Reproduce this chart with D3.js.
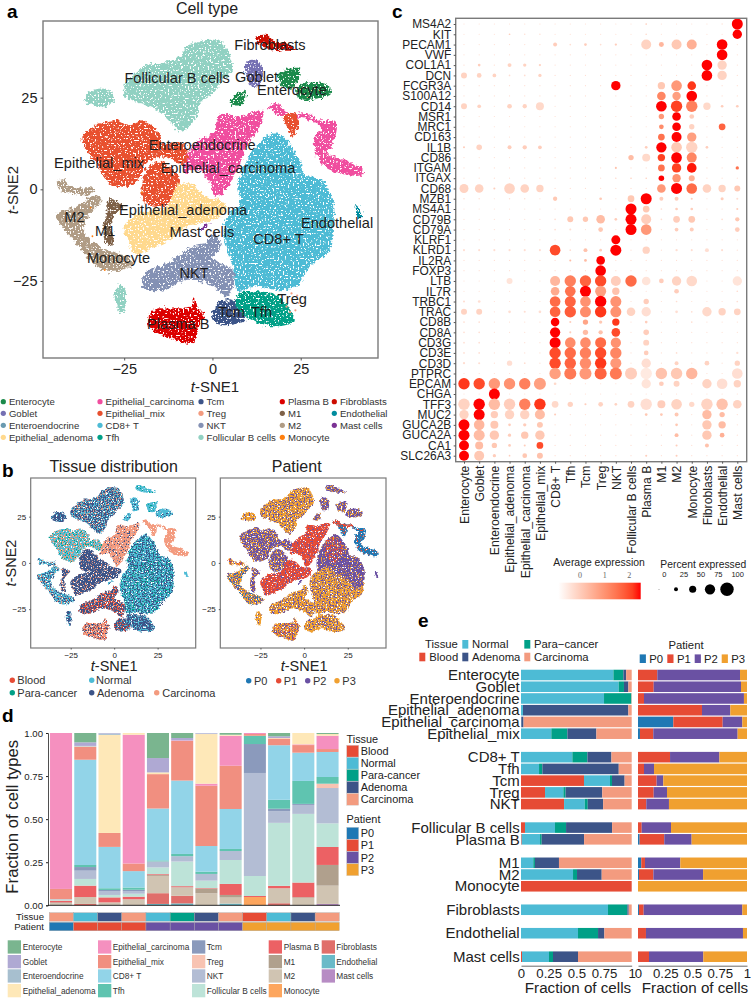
<!DOCTYPE html>
<html><head><meta charset="utf-8">
<script src="https://cdnjs.cloudflare.com/ajax/libs/d3/7.8.5/d3.min.js"></script>
<style>
html,body{margin:0;padding:0;background:#fff}
svg{display:block}
text{font-family:"Liberation Sans",Arial,sans-serif;fill:#222}
</style></head><body>
<svg id="chart" width="751" height="998" viewBox="0 0 751 998"></svg>
<script>
// ---------- shared categories ----------
const cellTypes = ["Enterocyte","Goblet","Enteroendocrine","Epithelial_adenoma","Epithelial_carcinoma","Epithelial_mix","CD8+ T","Tfh","Tcm","Treg","NKT","Follicular B cells","Plasma B","M1","M2","Monocyte","Fibroblasts","Endothelial","Mast cells"];
const cellColors = ["#1B8A4B","#7570B3","#6A9AB0","#FFD98E","#F04E9F","#E8502F","#4DBBD5","#00A087","#3C5488","#F39B7F","#8491B4","#91D1C2","#DC0000","#7E6148","#B09C85","#FF7F0E","#CC0C00","#008C9E","#7B3294"];
const cellColorsPale = ["#7AB58F","#AFA9D3","#A7BFCF","#FEE8B8","#F590BF","#F18F80","#92D4E8","#5FC4B0","#8B9ABC","#F8C3B2","#B3BDD4","#BDE3D8","#EC6164","#B0A08D","#D0C4B2","#FDA65E","#E06E6A","#6ABAC8","#B78CC4"];
const tissues = ["Blood","Normal","Para\u2212cancer","Adenoma","Carcinoma"];
const tissueColors = ["#E64B35","#4DBBD5","#00A087","#3C5488","#F39B7F"];
const patients = ["P0","P1","P2","P3"];
const patientColors = ["#1F78B4","#E64B35","#6A51A3","#F0A030"];

// ---------- t-SNE cluster outlines (t-SNE1, t-SNE2) ----------
const folB_main = [[-25.1,28.5],[-22.5,31.2],[-18.7,33.9],[-14,34.4],[-9.2,36.2],[-7.4,38.9],[-1.7,40.7],[2.1,40.3],[4.9,36.6],[5.4,32.1],[3,29.8],[0.2,26.2],[-3.6,23.5],[-4.5,19.8],[-8.8,15.7],[-12.1,18.5],[-15.8,21.6],[-20.6,23.5],[-24.3,24.8]];
const folB_small = [[-36.4,24.4],[-34.7,26.6],[-31.4,27.5],[-28.6,26.6],[-27.6,24.4],[-30,22.5],[-33.8,22.7]];
const folB_bottom = [[-27.6,-27.5],[-26.2,-26.1],[-24.8,-27],[-25.1,-33.4],[-26.2,-33.6],[-27.6,-30.2]];
const fibro = [[12.3,41.6],[15.3,42.1],[18.1,40.3],[20.9,39.8],[23.8,38],[18.1,38],[14.3,38.9],[12.5,39.8]];
const goblet = [[9.4,34.4],[11.5,35.3],[13.6,34.4],[14.3,30.7],[13.4,28.5],[11,28],[9.6,30.7]];
const entero_a = [[18.6,31.2],[21.9,33],[24.7,32.8],[24.2,29.8],[22.4,27.5],[20,28]];
const entero_b = [[23.8,27.5],[28,29.4],[33.2,28],[33.2,26.2],[30.4,24.8],[24.7,24.8]];
const entero_c = [[4.9,23.5],[5.8,24.8],[8.7,27.1],[9.6,25.3],[8.2,23]];
const carc_big = [[-7.4,8.9],[-3.6,13.5],[0.2,15.3],[2.1,20.7],[7.7,19.8],[14.3,21.6],[13.4,17.1],[11.5,14.4],[9.2,10.7],[7.7,6.2],[5.8,3.5],[4,-0.2],[1.1,-2],[-1.7,3.5],[-4.5,5.3],[-7.8,4.4]];
const carc_arc = [[16,22.5],[18.3,23.5],[21.9,20.7],[27.1,20.7],[30.4,18.9],[34.9,18.5],[34.6,13.5],[32.7,9.8],[37.5,8],[42.6,5.3],[42.2,3.9],[37,4.2],[31.8,6.2],[29,10.7],[29,14.4],[30.8,16.6],[27.5,18.9],[22.8,19.8],[18.6,20.3]];
const mix_a = [[-37.1,14.4],[-34.7,16.6],[-27.2,18.9],[-24.3,17.5],[-19.6,18.5],[-14.9,15.3],[-14,12.5],[-8.8,12.5],[-6.9,9.4],[-8.8,6.6],[-13,8.9],[-18.7,7.1],[-21,2.5],[-27.2,0.7],[-30.9,3.5],[-32.8,7.1],[-35.7,10.7]];
const mix_b = [[-20.1,-0.6],[-18.2,6.2],[-14.9,7.5],[-10.2,4.4],[-9.2,2.1],[-12.5,-3.8],[-16.8,-4.7],[-19.6,-2.9]];
const mix_c = [[20,19.8],[23.8,20.7],[24.4,17.1],[22.8,14.4],[20.9,17.5]];
const cd8 = [[15.3,14.4],[18.1,15.5],[20.9,13.5],[24.7,8],[26.1,3.9],[30.4,3],[34.2,-2.9],[34.2,-10.2],[33.2,-16.5],[27.5,-21.1],[23.8,-26.5],[19.1,-27.5],[12.5,-26.5],[7.3,-27.5],[5.8,-21.1],[4,-15.6],[3.2,-10.2],[4.9,-6.5],[7.7,-3.8],[7.3,1.6],[9.6,8],[12.5,11.6]];
const adenoma = [[-25.1,-10.2],[-20.6,-6.5],[-13,-4.7],[-10.2,0.7],[-6.4,1.6],[-1.7,-2],[4,-3.8],[2.1,-7.5],[-7.4,-10.2],[-12.1,-13.8],[-15.8,-15.6],[-22,-17.5],[-23.9,-13.8]];
const nkt = [[-20.1,-25.6],[-18.7,-22.5],[-13,-20.2],[-5.5,-15.6],[-1.7,-14.7],[0.2,-12],[2.5,-15.6],[0.2,-18.8],[5.8,-22],[5.8,-26.5],[4,-29.3],[0.2,-26.5],[-7.4,-24.7],[-14,-27.5],[-18.7,-27.5]];
const plasma = [[-18.2,-37],[-16.8,-32.9],[-11.1,-32.5],[-5.9,-32],[-5.5,-29.3],[-3.6,-32.9],[-2.5,-33.8],[-4.5,-39.3],[-5.5,-42],[-12.1,-40.6],[-15.8,-39.3]];
const tcm = [[-0.1,-34.7],[2.1,-30.6],[5.8,-30.2],[8.7,-32.9],[9.2,-35.6],[4.9,-37],[1.1,-36.5]];
const tfh = [[7.3,-28.4],[14.3,-27.9],[18.1,-28.8],[23.3,-35.6],[20.9,-37],[14.3,-37],[9.6,-34.7],[6.8,-32]];
const m2_a = [[-44.2,-6.5],[-39.4,-5.2],[-35.7,-2.9],[-32.8,-1.5],[-31.4,-2.9],[-34.7,-6.5],[-36.6,-11.1],[-31.9,-15.6],[-24.3,-18.4],[-22.5,-20.2],[-29.1,-22.5],[-33.8,-20.2],[-38.5,-14.7],[-42.7,-10.2]];
const m2_b = [[-44,2.1],[-42.3,2.7],[-39.9,0.7],[-33.8,0.3],[-34.7,-1.5],[-40.4,-0.9],[-43.2,-0.2]];
const m1 = [[-29.8,-2.9],[-27.6,-2.9],[-25.3,-4.7],[-27.2,-6.5],[-28.6,-8.8],[-28.1,-15.2],[-30,-15.2],[-30.9,-10.2],[-30,-6.5]];
const endothelial = [[40.6,-4.5],[41.2,-4.4],[42.4,-7.5],[41.5,-7.5]];
const mast = [[-3.9,-11.1],[-1.2,-9.5],[-0.6,-9.5],[-3.1,-11.3]];
const tregDots = [[22.4,-28.4],[24,-29],[23.5,-33],[22,-33.5],[21,-32],[24.4,-31]];
const monocyteDots = [[-34,-12.8],[-30.5,-22],[-34.5,-5],[-20,-0.8]];
const cd8_upper = [[9.6,8],[12.5,11.6],[15.3,14.4],[18.1,15.5],[20.9,13.5],[24.7,8],[26.1,3.9],[30.4,3],[34.2,-2.9],[34.2,-10.2],[30,-14],[24,-8],[18,-6],[14,-2],[8,-3.8],[7.3,1.6]];
const cd8_low = [[14,-16],[24,-14],[30,-17],[23.8,-26.5],[12.5,-26.5]];
const cd8_red = [[12,11],[16,14],[20,12],[22,6],[18,0],[13,3]];
const arc_top = [[16,22.5],[18.3,23.5],[21.9,20.7],[27.1,20.7],[28,19],[22.8,19.8],[18.6,20.3]];

const clusterOutlines = [folB_main,folB_small,folB_bottom,fibro,goblet,entero_a,entero_b,entero_c,carc_big,carc_arc,mix_a,mix_b,mix_c,cd8,adenoma,nkt,plasma,tcm,tfh,m2_a,m2_b,m1,endothelial,mast];
const clusterTypes = [11,11,11,16,1,0,0,0,4,4,5,5,5,6,3,10,12,8,7,14,14,13,17,18];
// tissue / patient index: dominant, second, third
const clusterTissue = [[3,1,4],[3,3,1],[3,1,3],[1,1,2],[1,1,3],[1,1,2],[1,1,3],[1,1,3],[4,4,3],[4,4,4],[1,4,2],[3,3,4],[4,4,4],[1,3,2],[3,3,4],[3,0,4],[4,3,0],[3,0,1],[3,1,3],[1,3,4],[1,3,4],[3,4,3],[1,1,1],[1,1,3]];
const clusterPatient = [[3,2,3],[3,3,2],[3,3,2],[2,3,2],[2,3,2],[2,3,2],[2,3,2],[2,3,2],[1,1,2],[0,0,1],[2,3,2],[2,3,2],[0,1,0],[3,2,3],[1,1,2],[3,2,3],[3,2,1],[3,3,2],[3,2,3],[3,2,0],[3,2,1],[2,3,2],[2,2,2],[2,2,3]];
const tissueBlobs = [[cd8_upper,3,"mix1"],[cd8_low,3,"mix1"]];
const patientBlobs = [[cd8_upper,2,"speckB"],[cd8_upper,3,"mix2"],[cd8_red,1,"mix1"],[arc_top,1,"speckB"]];

const labelNames = ["Fibroblasts","Follicular B cells","Goblet","Enterocyte","Enteroendocrine","Epithelial_mix","Epithelial_carcinoma","M2","M1","Epithelial_adenoma","Mast cells","Monocyte","CD8+ T","NKT","Endothelial","Treg","Tcm","Tfh","Plasma B"];
const labelX = [16.3,-10,12.5,22.5,-2.9,-32.1,4.4,-39.1,-30.4,-8.3,-3,-26.6,18.7,-5.2,35.3,22.6,5.4,13.9,-9.7];
const labelY = [39.3,30.3,30.5,27.2,12.1,7.3,5.8,-7.6,-11.4,-5.6,-11.6,-18.8,-13.6,-22.9,-9.1,-29.8,-33.5,-33.4,-36.8];

// ---------- panel c ----------
const genes = ["MS4A2","KIT","PECAM1","VWF","COL1A1","DCN","FCGR3A","S100A12","CD14","MSR1","MRC1","CD163","IL1B","CD86","ITGAM","ITGAX","CD68","MZB1","MS4A1","CD79B","CD79A","KLRF1","KLRD1","IL2RA","FOXP3","LTB","IL7R","TRBC1","TRAC","CD8B","CD8A","CD3G","CD3E","CD3D","PTPRC","EPCAM","CHGA","TFF3","MUC2","GUCA2B","GUCA2A","CA1","SLC26A3"];
const backgroundPct = 3, backgroundAvg = -0.3;
const dotPct = [
{12:7,17:4,18:81},{3:7,4:5,5:5,12:7,18:68},{6:25,7:7,8:15,9:7,10:12,12:73,13:33,14:73,15:73,17:78},{17:78},
{0:5,1:15,2:5,3:25,4:20,5:12,16:78,17:68},{0:41,1:31,2:23,3:7,4:7,5:20,16:78,17:68},{10:68,13:52,14:78,15:62},{13:62,14:60,15:78},
{0:41,1:23,3:31,4:28,5:57,13:78,14:84,15:84,16:52,17:15,18:15},{13:36,14:62,15:31},{13:31,14:62,15:36,17:47},{13:47,14:73,15:68},
{0:10,1:38,3:25,4:28,5:23,12:15,13:75,14:78,15:84,16:15},{11:36,12:57,13:52,14:78,15:73},{10:10,13:47,14:68,15:70,18:20},{10:4,11:6,12:6,13:38,14:60,15:41},
{0:65,1:62,2:10,3:78,4:62,5:52,13:62,14:81,15:78,16:62,17:52,18:41},{0:5,1:5,3:5,4:5,6:28,9:15,11:47,12:81,13:25,14:25,15:10,17:18,18:10},{11:81,12:47,13:7,14:15,15:15,18:10},{6:7,7:41,8:36,9:62,10:15,11:81,12:73,13:7,14:47,15:47,17:7,18:28},
{6:7,7:10,9:31,11:81,12:78,14:23,15:25,18:31},{10:65},{0:10,1:10,2:10,3:10,4:10,5:10,6:78,7:7,8:25,9:15,10:81,12:52,14:12,15:10,16:25,17:10},{7:10,8:15,9:62},
{9:78},{3:41,6:73,7:84,8:84,9:84,10:73,11:84,12:62,13:31,14:68,15:78,18:68},{6:62,7:78,8:81,9:81,10:52,14:31,18:7},{0:10,1:15,6:78,7:81,8:78,9:84,10:81,12:36,14:7,18:7},
{0:41,1:41,3:15,4:10,5:15,6:78,7:84,8:81,9:84,10:81,11:62,12:68,14:15,15:7,16:68,17:52,18:47},{0:7,1:7,6:62,7:10,8:36,9:20,10:52,12:15,15:7},{0:7,1:7,6:75,7:10,8:36,9:28,10:62,12:38},{0:7,1:7,6:81,7:78,8:78,9:81,10:75,12:41},
{0:7,1:7,6:84,7:84,8:84,9:84,10:84,12:31,14:7,18:12},{0:12,1:10,3:36,4:7,6:84,7:84,8:84,9:84,10:81,12:68,14:25,16:31,18:36},{6:84,7:89,8:89,9:89,10:89,11:89,12:84,13:84,14:84,15:84,18:78},{0:84,1:84,2:84,3:84,4:84,5:89,6:15,12:68,13:31,14:41,16:68,17:78,18:52},
{2:81},{0:84,1:84,2:84,3:84,4:84,5:84,6:47,7:36,8:10,9:31,10:15,11:47,12:84,13:57,14:78,15:36,16:84,17:84,18:62},{0:68,1:81,2:52,3:68,4:68,5:73,6:10,7:4,12:15,13:15,14:25,16:68,17:36,18:4},{0:81,1:78,2:57,3:15,4:20,5:41,14:15,16:68,17:52},
{0:81,1:81,2:68,3:20,4:52,5:68,14:25,16:68,17:31},{0:73,1:57,2:36,3:15,4:10,5:47,14:10,16:25},{0:73,1:73,2:20,3:7,4:31,5:41,12:10,14:10}
];
const dotAvg = [
{12:0,18:2.5},{3:0,18:2.5},{6:0,8:0,10:0,12:-.1,13:.4,14:.1,15:.5,17:2.5},{17:2.5},
{1:0,3:-.1,4:-.1,5:-.1,16:2.5,17:-.1},{0:-.1,1:-.1,2:-.1,5:-.1,16:2.5,17:-.1},{10:2.5,13:.1,14:.9,15:2.2},{13:1.2,14:.8,15:2.5},
{0:-.1,1:-.1,3:-.1,4:-.1,5:-.2,13:2.5,14:2.1,15:1.3,16:-.2,17:0,18:0},{13:.9,14:2.5,15:0},{13:1.1,14:2.5,15:-.1,17:1.7},{13:1.5,14:2.5,15:.8},
{0:0,1:-.1,3:0,4:0,5:0,12:0,13:2.5,14:.1,15:-.1,16:0},{11:.3,12:-.2,13:2.1,14:2.5,15:1.2},{10:.2,13:1.5,14:2.1,15:2.4,18:1.5},{10:0,11:0,12:0,13:2.5,14:1,15:.5},
{0:-.1,1:-.1,2:0,3:-.1,4:-.1,5:-.1,13:.9,14:2.5,15:1.6,16:-.1,17:-.1,18:.1},{6:.1,9:.1,11:.1,12:2.5,13:0,14:0,15:0,17:0},{11:2.5,12:.1,14:0,15:0,18:0},{7:.1,8:.1,9:.3,10:0,11:2.5,12:0,14:0,15:.1,18:.1},
{9:.1,11:2.5,12:.9,14:0,15:0,18:0},{10:2.5},{6:2,8:.2,9:0,10:2.5,12:-.1},{7:.3,8:.3,9:2.5},
{9:2.5},{3:-.4,6:.4,7:1.3,8:1.7,9:2,10:0,11:1.6,12:-.4,13:0,14:-.1,15:-.2,18:-.4},{6:.6,7:1.5,8:2.5,9:.8,10:.2,14:0},{6:1.6,7:1.7,8:1,9:2.5,10:1,12:0},
{0:-.1,1:-.1,6:1.7,7:1.8,8:1.1,9:2.2,10:1,11:-.1,12:-.3,16:-.2,17:-.1,18:-.1},{6:2.5,7:0,8:.7,9:.1,10:2.2,12:0},{6:2.5,7:0,8:.3,9:.2,10:2,12:0},{6:2.5,7:1.1,8:1.1,9:1.6,10:1,12:-.1},
{6:2,7:1.6,8:1.3,9:2,10:1.2,12:0},{3:-.3,6:2,7:1.7,8:1.1,9:2.2,10:.9,12:-.3,14:-.1,16:-.1,18:-.1},{6:.8,7:1.4,8:.9,9:1.7,10:1.4,11:0,12:-.5,13:.2,14:.1,15:.4,18:-.3},{0:2.2,1:2,2:.9,3:1,4:1.3,5:.8,6:-.2,12:-.4,13:0,14:-.1,16:-.1,17:-.3,18:-.1},
{2:2.5},{0:-.1,1:2.5,2:.3,3:0,4:1.3,5:2.2,6:-.2,7:-.1,8:0,9:-.1,10:-.1,11:-.1,12:-.3,13:0,14:-.1,15:-.2,16:-.1,17:.2,18:-.1},{0:-.1,1:2.5,2:0,3:-.1,4:-.1,5:.3,6:0,12:.1,13:.1,14:.1,16:.3,17:.3},{0:2.5,1:.4,2:.1,3:0,4:0,5:.1,14:.1,16:.1,17:.3},
{0:2.5,1:.3,2:.1,3:0,4:.1,5:.1,14:.3,16:.1,17:.5},{0:2.5,1:.3,2:.1,3:0,4:0,5:2,14:0,16:.2},{0:2.5,1:.1,2:0,3:0,4:.1,5:.2,12:0,14:0}
];
const pctLegend = [0,25,50,75,100];
const avgLegend = [0,1,2];

// ---------- panel d: one row of fractions per sample, in cellTypes order ----------
const sampleTissue = [4,1,3,4,1,2,3,4,0,1,3,4];
const samplePatient = [0,1,1,1,2,2,2,2,3,3,3,3];
const sampleFractions = [
[0,0,0,0,.905,.06,.003,0,0,0,0,.005,.01,.005,.012,0,0,0,0],
[.054,.021,.003,.002,0,.075,.611,.012,.021,0,.048,.039,.066,0,.04,0,.008,0,0],
[0,.003,.008,.569,0,.081,.24,.01,.006,0,.023,.014,.029,0,.017,0,0,0,0],
[0,0,0,.01,.746,.044,.095,.013,.008,0,.015,.017,.015,0,.035,0,0,0,0],
[.145,.083,0,.01,0,.199,.3,.006,0,0,.035,.039,.005,.005,.1,0,.062,.008,0],
[.029,.014,0,0,.003,.23,.426,.013,0,0,.031,.143,.006,.002,.048,0,.044,.01,.001],
[0,.003,.003,.288,.012,.35,.149,.013,0,0,.039,.043,.003,.027,.07,0,0,0,0],
[.01,0,0,.006,.174,.251,.232,.012,0,0,.052,.139,.064,.015,.035,0,0,.01,0],
[0,0,0,0,.006,.01,0,.048,.168,0,.598,.116,.006,0,0,.048,0,0,0],
[.019,.01,0,.003,0,.039,.317,.052,.014,0,.068,.366,.014,0,.087,0,.012,0,0],
[0,0,0,.066,.004,.044,.164,.133,.006,0,.052,.398,.085,.004,.043,0,0,0,0],
[.006,0,0,.01,.077,.017,.145,.039,0,.025,.205,.137,.104,.12,.106,0,0,0,.008]
];
const fractionTicks = [0,.25,.5,.75,1];

// ---------- panel e ----------
const eSlots = ["Enterocyte","Goblet","Enteroendocrine","Epithelial_adenoma","Epithelial_carcinoma","Epithelial_mix","g1","CD8+ T","Tfh","Tcm","Treg","NKT","g2","Follicular B cells","Plasma B","g3","M1","M2","Monocyte","g4","Fibroblasts","g5","Endothelial","g6","Mast cells"];
const eOrder = ["Enterocyte","Goblet","Enteroendocrine","Epithelial_adenoma","Epithelial_carcinoma","Epithelial_mix","CD8+ T","Tfh","Tcm","Treg","NKT","Follicular B cells","Plasma B","M1","M2","Monocyte","Fibroblasts","Endothelial","Mast cells"];
const eTissue = [
[0,.834,.09,.025,.05],[0,.883,.048,.04,.03],[0,.75,.247,0,.003],[0,.018,0,.952,.03],[0,.003,0,.02,.977],[0,.274,.145,.262,.319],
[0,.464,.136,.217,.183],[0,.163,.03,.69,.117],[.569,.235,.018,.114,.064],[.217,.166,.02,.331,.266],[.389,.187,.027,.139,.258],
[.036,.271,.1,.416,.177],[.006,.166,.015,.383,.43],
[0,.111,.015,.217,.657],[0,.47,.036,.223,.271],[1,0,0,0,0],
[0,.786,.175,.012,.027],[0,.515,.181,.057,.247],[.009,.244,.036,.226,.485]];
const ePatient = [
[0,.177,.759,.064],[0,.144,.801,.055],[0,.055,.917,.028],[0,.587,.26,.153],[.324,.453,.18,.043],[.018,.122,.774,.086],
[0,.294,.453,.253],[0,.055,.092,.853],[0,.171,.061,.768],[0,.144,.122,.734],[0,.076,.208,.716],
[0,.034,.269,.697],[.015,.226,.251,.508],
[.03,.034,.324,.612],[.009,.132,.456,.403],[0,0,0,1],
[.009,.043,.905,.043],[0,.073,.89,.037],[0,.101,.498,.401]];

// ================= drawing =================
const svg = d3.select("#chart");
const defs = svg.append("defs");
function noiseFilter(id, freq, disp, seed, k, c, seed2){
  const f = defs.append("filter").attr("id",id).attr("x","-15%").attr("y","-15%").attr("width","130%").attr("height","130%")
    .attr("color-interpolation-filters","sRGB");
  f.append("feTurbulence").attr("type","fractalNoise").attr("baseFrequency",0.3).attr("numOctaves",2).attr("seed",seed).attr("result","edge");
  f.append("feDisplacementMap").attr("in","SourceGraphic").attr("in2","edge").attr("scale",disp).attr("xChannelSelector","R").attr("yChannelSelector","G").attr("result","moved");
  f.append("feTurbulence").attr("type","fractalNoise").attr("baseFrequency",freq).attr("numOctaves",1).attr("seed",seed2).attr("result","grain");
  f.append("feColorMatrix").attr("in","grain").attr("type","matrix").attr("values",`0 0 0 0 0  0 0 0 0 0  0 0 0 0 0  0 0 0 ${k} ${c}`).attr("result","mask");
  f.append("feComposite").attr("in","moved").attr("in2","mask").attr("operator","in");
}
noiseFilter("speckA",0.6,7,3,14,-4.7,11);
noiseFilter("speckB",0.8,4,5,14,-4.8,21);
noiseFilter("mix1",0.75,4,5,14,-7.2,31);
noiseFilter("mix2",0.75,4,5,14,-8.2,41);

function frame(g,x0,y0,x1,y1,w){
  g.append("rect").attr("x",x0).attr("y",y0).attr("width",x1-x0).attr("height",y1-y0).attr("fill","none").attr("stroke","#7a7a7a").attr("stroke-width",w);
}
function letter(t,x,y){ svg.append("text").attr("x",x).attr("y",y).attr("font-size",19).attr("font-weight","bold").style("fill","#000").text(t); }
function tsneScales(x0,x1,y0,y1){
  return [d3.scaleLinear().domain([-48,46.9]).range([x0,x1]), d3.scaleLinear().domain([45.9,-46]).range([y0,y1])];
}
function tsneAxes(g,xs,ys,x1,y1,x0,size,tick){
  const ax = g.append("g").attr("transform",`translate(0,${y1})`).call(d3.axisBottom(xs).tickValues([-25,0,25]).tickSize(tick).tickFormat(d3.format("d")));
  const ay = g.append("g").attr("transform",`translate(${x0},0)`).call(d3.axisLeft(ys).tickValues([-25,0,25]).tickSize(tick).tickFormat(d3.format("d")));
  [ax,ay].forEach(a=>{a.select(".domain").remove();a.selectAll("line").attr("stroke","#555");a.selectAll("text").attr("font-size",size).style("fill","#222");});
}

// --- panel a
letter("a",7,17.5);
{
  const g = svg.append("g");
  const [xs,ys] = tsneScales(43,378,21,358);
  const line = d3.line().x(d=>xs(d[0])).y(d=>ys(d[1])).curve(d3.curveCatmullRomClosed.alpha(.5));
  g.selectAll("path.c").data(clusterOutlines).join("path").attr("class","c").attr("d",line)
    .attr("fill",(d,i)=>cellColors[clusterTypes[i]]).attr("filter","url(#speckA)");
  g.selectAll("circle.t").data(tregDots).join("circle").attr("class","t").attr("cx",d=>xs(d[0])).attr("cy",d=>ys(d[1])).attr("r",1.1).attr("fill",cellColors[9]);
  g.selectAll("circle.m").data(monocyteDots).join("circle").attr("class","m").attr("cx",d=>xs(d[0])).attr("cy",d=>ys(d[1])).attr("r",.9).attr("fill",cellColors[15]);
  frame(g,43,21,378,358,1.4);
  tsneAxes(g,xs,ys,378,358,43,14.5,2.5);
  g.selectAll("text.l").data(labelNames).join("text").attr("class","l")
    .attr("x",(d,i)=>xs(labelX[i])).attr("y",(d,i)=>ys(labelY[i])+5).attr("text-anchor","middle").attr("font-size",14.6).style("fill","#1c1c1c").text(d=>d);
  svg.append("text").attr("x",207).attr("y",14).attr("text-anchor","middle").attr("font-size",16).text("Cell type");
  svg.append("text").attr("x",215).attr("y",392).attr("text-anchor","middle").attr("font-size",15).html('<tspan font-style="italic">t</tspan>-SNE1');
  svg.append("text").attr("transform","translate(18,190) rotate(-90)").attr("text-anchor","middle").attr("font-size",15).html('<tspan font-style="italic">t</tspan>-SNE2');
}
// legend a
{
  const colX = [3.3,3.3,3.3,3.3,100,100,100,100,201,201,201,201,282.3,282.3,282.3,282.3,334.3,334.3,334.3];
  const rows = [401.7,413.3,425.3,437.3];
  const idxRow = [0,1,2,3,0,1,2,3,0,1,2,3,0,1,2,3,0,1,2];
  const g = svg.append("g");
  cellTypes.forEach((n,i)=>{
    g.append("circle").attr("cx",colX[i]).attr("cy",rows[idxRow[i]]).attr("r",2.6).attr("fill",cellColors[i]);
    g.append("text").attr("x",colX[i]+5.6).attr("y",rows[idxRow[i]]+3.3).attr("font-size",9.6).style("fill","#333").text(n);
  });
}

// --- panel b
letter("b",2,477);
function tsnePanel(x0,x1,tissueMode,title,titleX){
  const g = svg.append("g");
  const [xs,ys] = tsneScales(x0,x1,478,648);
  const line = d3.line().x(d=>xs(d[0])).y(d=>ys(d[1])).curve(d3.curveCatmullRomClosed.alpha(.5));
  const mixes = tissueMode?clusterTissue:clusterPatient, cols = tissueMode?tissueColors:patientColors, blobs = tissueMode?tissueBlobs:patientBlobs;
  clusterOutlines.forEach((o,i)=>{
    g.append("path").attr("d",line(o)).attr("fill",cols[mixes[i][0]]).attr("filter","url(#speckB)");
    g.append("path").attr("d",line(o)).attr("fill",cols[mixes[i][1]]).attr("filter","url(#mix1)");
    g.append("path").attr("d",line(o)).attr("fill",cols[mixes[i][2]]).attr("filter","url(#mix2)");
  });
  blobs.forEach(b=>g.append("path").attr("d",line(b[0])).attr("fill",cols[b[1]]).attr("filter",`url(#${b[2]})`));
  frame(g,x0,478,x1,648,1.2);
  tsneAxes(g,xs,ys,x1,648,x0,8,1.5);
  svg.append("text").attr("x",titleX).attr("y",472).attr("text-anchor","middle").attr("font-size",16).text(title);
  svg.append("text").attr("x",xs(0)).attr("y",671).attr("text-anchor","middle").attr("font-size",14.5).html('<tspan font-style="italic">t</tspan>-SNE1');
}
tsnePanel(30.7,195.7,true,"Tissue distribution",113.7);
tsnePanel(220.3,386,false,"Patient",296.7);
svg.append("text").attr("transform","translate(16,563) rotate(-90)").attr("text-anchor","middle").attr("font-size",14.5).html('<tspan font-style="italic">t</tspan>-SNE2');
{
  const dotX=[12.3,91.7,12.3,91.7,156.7], txtX=[17.3,96,17.3,97,162.3], rowY=[680.3,680.3,692.7,692.7,692.7];
  tissues.forEach((t,i)=>{
    svg.append("circle").attr("cx",dotX[i]).attr("cy",rowY[i]).attr("r",2.7).attr("fill",tissueColors[i]);
    svg.append("text").attr("x",txtX[i]).attr("y",rowY[i]+3.8).attr("font-size",11).style("fill","#333").text(t.replace("\u2212","-"));
  });
  const pDot=[248.7,278.7,307.7,337], pTxt=[254,283.7,313,342.3];
  patients.forEach((p,i)=>{
    svg.append("circle").attr("cx",pDot[i]).attr("cy",680.7).attr("r",2.7).attr("fill",patientColors[i]);
    svg.append("text").attr("x",pTxt[i]).attr("y",684.5).attr("font-size",11).style("fill","#333").text(p);
  });
}

// --- panel c
letter("c",392,17.5);
{
  const g = svg.append("g");
  const xs = d3.scalePoint().domain(cellTypes).range([464,737.3]);
  const ys = d3.scalePoint().domain(genes).range([24,455.7]);
  const r = d3.scaleLinear().domain([0,100]).range([.4,6.7]);
  const color = d3.scaleLinear().domain([-.88,2.46]).range(["#ffffff","#ff0000"]).interpolate(d3.interpolateLab).clamp(true);
  const dots = [];
  genes.forEach((gene,gi)=>cellTypes.forEach((ct,ci)=>{
    dots.push({gene,ct,pct:dotPct[gi][ci]??backgroundPct,avg:dotAvg[gi][ci]??backgroundAvg});
  }));
  g.selectAll("circle").data(dots).join("circle").attr("cx",d=>xs(d.ct)).attr("cy",d=>ys(d.gene)).attr("r",d=>r(d.pct)).attr("fill",d=>color(d.avg));
  frame(g,455.7,18.3,746.7,461.7,1.4);
  const ay = g.append("g").attr("transform","translate(455.7,0)").call(d3.axisLeft(ys).tickSize(2));
  const ax = g.append("g").attr("transform","translate(0,461.7)").call(d3.axisBottom(xs).tickSize(2));
  [ax,ay].forEach(a=>{a.select(".domain").remove();a.selectAll("line").attr("stroke","#555");});
  ay.selectAll("text").attr("font-size",11.9).attr("x",-4.5).style("fill","#222");
  ax.selectAll("text").attr("font-size",12.2).style("fill","#222").attr("transform","rotate(-90)").attr("text-anchor","end").attr("x",-4).attr("y",0).attr("dy",".36em");
  // legends
  const lg = defs.append("linearGradient").attr("id","avgGrad");
  d3.range(0,1.01,.1).forEach(t=>lg.append("stop").attr("offset",t).attr("stop-color",color(-.88+3.34*t)));
  const cx = d3.scaleLinear().domain([-.88,2.46]).range([558.3,640.7]);
  svg.append("rect").attr("x",cx.range()[0]).attr("y",582.7).attr("width",cx.range()[1]-cx.range()[0]).attr("height",16.6).attr("fill","url(#avgGrad)");
  svg.append("text").attr("x",599).attr("y",566.3).attr("text-anchor","middle").attr("font-size",10.4).text("Average expression");
  svg.selectAll("text.av").data(avgLegend).join("text").attr("class","av").attr("x",d=>cx(d)).attr("y",578).attr("text-anchor","middle").attr("font-size",8).style("font-family","Liberation Serif").style("fill","#666").text(d=>d);
  svg.append("text").attr("x",703.3).attr("y",567.6).attr("text-anchor","middle").attr("font-size",10.3).text("Percent expressed");
  const tickX=[664.3,684,701,718.3,737.7], dotLegX=[659,676,692.7,710,727];
  svg.selectAll("text.pc").data(pctLegend).join("text").attr("class","pc").attr("x",(d,i)=>tickX[i]).attr("y",577).attr("text-anchor","middle").attr("font-size",7.5).text(d=>d);
  svg.selectAll("circle.pc").data(pctLegend).join("circle").attr("class","pc").attr("cx",(d,i)=>dotLegX[i]).attr("cy",589.3).attr("r",d=>r(d)).attr("fill","#000");
}

// --- panel d
letter("d",2,722);
{
  const g = svg.append("g");
  const xs = d3.scaleBand().domain(d3.range(12)).range([49.3,339.3]).paddingInner(.09).paddingOuter(.03);
  const ys = d3.scaleLinear().domain([0,1]).range([905.3,733]);
  const table = sampleFractions.map((row,i)=>{const o={sample:i};cellTypes.forEach((c,j)=>o[c]=row[j]);return o;});
  const stack = d3.stack().keys(cellTypes.slice().reverse()).offset(d3.stackOffsetExpand)(table);
  g.selectAll("g.s").data(stack).join("g").attr("class","s").attr("fill",d=>cellColorsPale[cellTypes.indexOf(d.key)])
    .selectAll("rect").data(d=>d).join("rect").attr("x",d=>xs(d.data.sample)).attr("width",xs.bandwidth())
    .attr("y",d=>ys(d[1])).attr("height",d=>ys(d[0])-ys(d[1]));
  const ay = g.append("g").attr("transform","translate(48,0)").call(d3.axisLeft(ys).tickValues(fractionTicks).tickFormat(d3.format(".2f")).tickSize(2));
  ay.selectAll("text").attr("font-size",9.6).style("fill","#222");
  ay.select(".domain").attr("stroke","#222").attr("stroke-width",.8);
  ay.selectAll("line").attr("stroke","#222");
  g.append("line").attr("x1",48).attr("x2",340).attr("y1",905.3).attr("y2",905.3).attr("stroke","#111").attr("stroke-width",.9);
  g.append("text").attr("transform","translate(12,816.7) rotate(-90)").attr("text-anchor","middle").attr("font-size",16.8).attr("dy",".35em").text("Fraction of cell types");
  const strip = d3.scaleBand().domain(d3.range(12)).range([49.3,339.3]);
  g.selectAll("rect.t").data(sampleTissue).join("rect").attr("class","t").attr("x",(d,i)=>strip(i)).attr("y",912.7).attr("width",strip.bandwidth()).attr("height",8.5).attr("fill",d=>tissueColors[d]).attr("stroke","#aaa").attr("stroke-width",.4);
  g.selectAll("rect.p").data(samplePatient).join("rect").attr("class","p").attr("x",(d,i)=>strip(i)).attr("y",922.3).attr("width",strip.bandwidth()).attr("height",8.5).attr("fill",d=>patientColors[d]).attr("stroke","#aaa").attr("stroke-width",.4);
  g.append("text").attr("x",44).attr("y",919.5).attr("text-anchor","end").attr("font-size",9.6).text("Tissue");
  g.append("text").attr("x",44).attr("y",929.5).attr("text-anchor","end").attr("font-size",9.6).text("Patient");
  // side legends
  g.append("text").attr("x",346.5).attr("y",743).attr("font-size",10.9).text("Tissue");
  const tsw = d3.scaleBand().domain(tissues).range([745.3,805.5]);
  tissues.forEach(t=>{
    g.append("rect").attr("x",346.7).attr("y",tsw(t)).attr("width",12).attr("height",tsw.bandwidth()-.3).attr("fill",tissueColors[tissues.indexOf(t)]).attr("stroke","#ccc").attr("stroke-width",.4);
    g.append("text").attr("x",360.7).attr("y",tsw(t)+10).attr("font-size",10.9).text(t.replace("\u2212","-"));
  });
  g.append("text").attr("x",346.5).attr("y",823).attr("font-size",10.9).text("Patient");
  const psw = d3.scaleBand().domain(patients).range([827.3,876]);
  patients.forEach(p=>{
    g.append("rect").attr("x",346.7).attr("y",psw(p)).attr("width",12).attr("height",psw.bandwidth()-.3).attr("fill",patientColors[patients.indexOf(p)]).attr("stroke","#ccc").attr("stroke-width",.4);
    g.append("text").attr("x",360.7).attr("y",psw(p)+10).attr("font-size",10.9).text(p);
  });
  // bottom legend
  const colSw=[7.7,98,192,268.7,321.7], colTx=[22.7,112.7,206.7,283.7,336.3], rowsY=[947,961.7,976,990.7];
  const colOf=[0,0,0,0,1,1,1,1,2,2,2,2,3,3,3,3,4,4,4], rowOf=[0,1,2,3,0,1,2,3,0,1,2,3,0,1,2,3,0,1,2];
  cellTypes.forEach((c,i)=>{
    g.append("rect").attr("x",colSw[colOf[i]]).attr("y",rowsY[rowOf[i]]-6.7).attr("width",13.3).attr("height",13.3).attr("fill",cellColorsPale[i]);
    g.append("text").attr("x",colTx[colOf[i]]).attr("y",rowsY[rowOf[i]]+3.1).attr("font-size",8.3).style("fill","#333").text(c);
  });
}

// --- panel e
letter("e",418,627);
{
  const g = svg.append("g");
  const y = d3.scaleBand().domain(eSlots).range([669.13,962.57]).paddingInner(.1).paddingOuter(.05);
  const xl = d3.scaleLinear().domain([0,1]).range([521,631.7]);
  const xr = d3.scaleLinear().domain([0,1]).range([638,747]);
  function bars(x,rows,keys,cols){
    const table = rows.map((r,i)=>{const o={name:eOrder[i]};keys.forEach((k,j)=>o[k]=r[j]);return o;});
    const st = d3.stack().keys(keys).offset(d3.stackOffsetExpand)(table);
    g.append("g").selectAll("g").data(st).join("g").attr("fill",(d,i)=>cols[i])
      .selectAll("rect").data(d=>d).join("rect").attr("x",d=>x(d[0])).attr("width",d=>x(d[1])-x(d[0])).attr("y",d=>y(d.data.name)).attr("height",y.bandwidth());
    const ax = g.append("g").attr("transform","translate(0,965.7)").call(d3.axisBottom(x).tickValues(fractionTicks).tickFormat(d=>String(d)).tickSize(0));
    ax.select(".domain").attr("stroke","#444").attr("stroke-width",.8);
    ax.selectAll("text").attr("font-size",13.2).attr("dy","0.72em").style("fill","#222");
  }
  bars(xl,eTissue,tissues,tissueColors);
  bars(xr,ePatient,patients,patientColors);
  g.selectAll("text.r").data(eOrder).join("text").attr("class","r").attr("x",519.7).attr("y",d=>y(d)+y.bandwidth()/2+5.2).attr("text-anchor","end").attr("font-size",15).style("fill","#222").text(d=>d);
  g.append("text").attr("x",578).attr("y",992.5).attr("text-anchor","middle").attr("font-size",15.2).text("Fraction of cells");
  g.append("text").attr("x",695).attr("y",992.5).attr("text-anchor","middle").attr("font-size",15.2).text("Fraction of cells");
  g.append("text").attr("x",425).attr("y",648.2).attr("font-size",11.3).text("Tissue");
  g.append("text").attr("x",686).attr("y",649.2).attr("text-anchor","middle").attr("font-size",11.3).text("Patient");
  const swX=[419.3,462.3,524.3,462.3,524.3], txtX=[429.3,472,534,472,534], rowY=[657,644.3,644.3,657,657];
  tissues.forEach((t,i)=>{
    g.append("rect").attr("x",swX[i]).attr("y",rowY[i]-4.3).attr("width",6).attr("height",8.6).attr("fill",tissueColors[i]);
    g.append("text").attr("x",txtX[i]).attr("y",rowY[i]+4).attr("font-size",11.3).text(t);
  });
  const pSw=[639.7,667.3,694.7,721.7], pTx=[649.3,677,704,731.3];
  patients.forEach((p,i)=>{
    g.append("rect").attr("x",pSw[i]).attr("y",654.4).attr("width",6.2).attr("height",8.6).attr("fill",patientColors[i]);
    g.append("text").attr("x",pTx[i]).attr("y",662.7).attr("font-size",11.3).text(p);
  });
}
</script>
</body></html>
